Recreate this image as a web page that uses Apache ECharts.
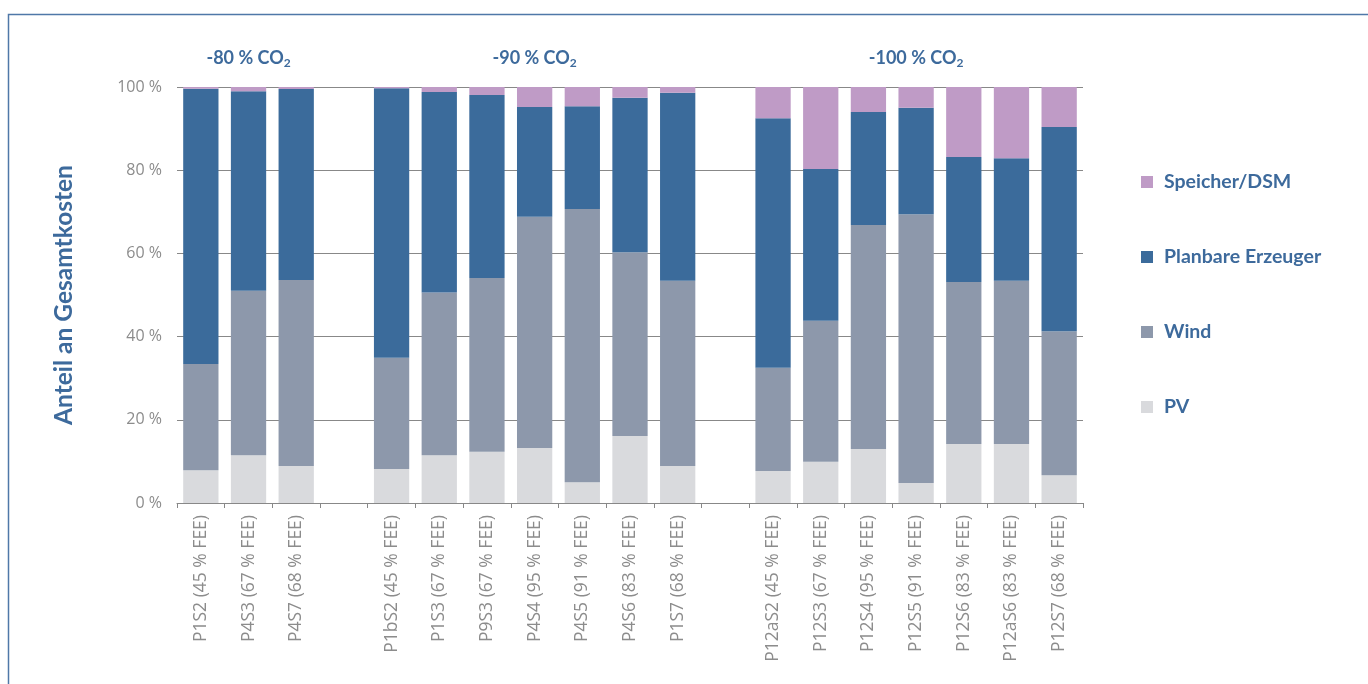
<!DOCTYPE html>
<html>
<head>
<meta charset="utf-8">
<script src="https://cdn.jsdelivr.net/npm/echarts@6/dist/echarts.min.js"></script>
<style>
  html, body { margin: 0; padding: 0; background: #fff; }
  #chart { width: 1368px; height: 684px; }
</style>
</head>
<body>
<div id="chart"></div>
<script>
// Scenario labels; empty entries separate the three CO2 groups
const categories = [
  'P1S2 (45 % FEE)', 'P4S3 (67 % FEE)', 'P4S7 (68 % FEE)',
  '',
  'P1bS2 (45 % FEE)', 'P1S3 (67 % FEE)', 'P9S3 (67 % FEE)', 'P4S4 (95 % FEE)',
  'P4S5 (91 % FEE)', 'P4S6 (83 % FEE)', 'P1S7 (68 % FEE)',
  '',
  'P12aS2 (45 % FEE)', 'P12S3 (67 % FEE)', 'P12S4 (95 % FEE)', 'P12S5 (91 % FEE)',
  'P12S6 (83 % FEE)', 'P12aS6 (83 % FEE)', 'P12S7 (68 % FEE)'
];

// Cost shares in percent of total cost
const pv = [7.9, 11.5, 8.9, null, 8.2, 11.5, 12.3, 13.2, 5.0, 16.1, 8.9, null, 7.7, 9.9, 13.0, 4.8, 14.2, 14.2, 6.7];
const wind = [25.5, 39.5, 44.7, null, 26.7, 39.1, 41.8, 55.6, 65.7, 44.2, 44.5, null, 24.8, 33.9, 53.8, 64.6, 38.9, 39.2, 34.6];
const planbar = [66.2, 48.0, 45.9, null, 64.8, 48.2, 44.0, 26.4, 24.7, 37.1, 45.2, null, 60.0, 36.5, 27.2, 25.6, 30.1, 29.5, 49.1];
const speicher = [0.4, 1.0, 0.5, null, 0.3, 1.2, 1.9, 4.8, 4.6, 2.6, 1.4, null, 7.5, 19.7, 6.0, 5.0, 16.8, 17.1, 9.6];

// Group headings: text and the category index they are centred over
const groupTitles = ['-80 % CO', '-90 % CO', '-100 % CO'];
const groupCenters = [1, 7, 15];

const seriesNames = ['PV', 'Wind', 'Planbare Erzeuger', 'Speicher/DSM'];
const legendOrder = ['Speicher/DSM', 'Planbare Erzeuger', 'Wind', 'PV'];
const colors = ['#d9dadd', '#8d98ab', '#3b6b9b', '#bf9bc6'];
const seriesData = [pv, wind, planbar, speicher];

const FONT = 'Lato, "Open Sans", sans-serif';
const LABEL_FONT = '"Open Sans", Lato, sans-serif';
const BLUE = '#3d6a9c';
const GREY = '#8c8c8c';

const chart = echarts.init(document.getElementById('chart'), null, { renderer: 'canvas' });

const option = {
  animation: false,
  backgroundColor: '#fff',
  textStyle: { fontFamily: FONT },
  grid: { left: 177, right: 285, top: 87, bottom: 181, containLabel: false },
  legend: {
    data: legendOrder,
    orient: 'vertical',
    left: 1136,
    top: 167,
    itemWidth: 12,
    itemHeight: 12,
    itemGap: 55,
    icon: 'rect',
    selectedMode: false,
    textStyle: { color: BLUE, fontSize: 19.5, fontWeight: 'bold', fontFamily: FONT, lineHeight: 20, padding: [0, 0, 0, 6] }
  },
  xAxis: {
    type: 'category',
    data: categories,
    axisLine: { lineStyle: { color: '#888', width: 1 } },
    axisTick: { show: true, length: 5, lineStyle: { color: '#888' } },
    axisLabel: { rotate: 90, interval: 0, margin: 12, color: GREY, fontSize: 17.5, fontFamily: LABEL_FONT }
  },
  yAxis: {
    type: 'value',
    min: 0,
    max: 100,
    interval: 20,
    name: 'Anteil an Gesamtkosten',
    nameLocation: 'middle',
    nameGap: 100,
    nameRotate: 90,
    nameTextStyle: { color: BLUE, fontSize: 24.5, fontWeight: 'bold', fontFamily: FONT },
    axisLine: { show: false },
    axisTick: { show: false },
    axisLabel: { formatter: '{value} %', color: GREY, fontSize: 16, margin: 15, fontFamily: LABEL_FONT },
    splitLine: { lineStyle: { color: '#888', width: 1 } }
  },
  series: seriesNames.map((name, i) => ({
    name: name,
    type: 'bar',
    stack: 'total',
    barCategoryGap: '26%',
    data: seriesData[i],
    itemStyle: { color: colors[i] }
  }))
};

chart.setOption(option);

// Heading over each group, positioned through the category scale
const heads = groupTitles.map((t, i) => {
  const x = chart.convertToPixel({ xAxisIndex: 0 }, groupCenters[i]);
  return {
    type: 'text',
    x: x,
    y: 58,
    style: {
      text: '{m|' + t + '}{s|2}',
      align: 'center',
      verticalAlign: 'middle',
      rich: {
        m: { fontSize: 18, fontWeight: 'bold', fill: BLUE, fontFamily: FONT },
        s: { fontSize: 12, fontWeight: 'bold', fill: BLUE, fontFamily: FONT, padding: [11, 0, 0, 0] }
      }
    }
  };
});

chart.setOption({
  graphic: [
    {
      type: 'rect',
      shape: { x: 8.5, y: 14.5, width: 1400, height: 700 },
      style: { fill: 'none', stroke: '#4f78a8', lineWidth: 1.5 },
      silent: true
    }
  ].concat(heads)
});
</script>
</body>
</html>
